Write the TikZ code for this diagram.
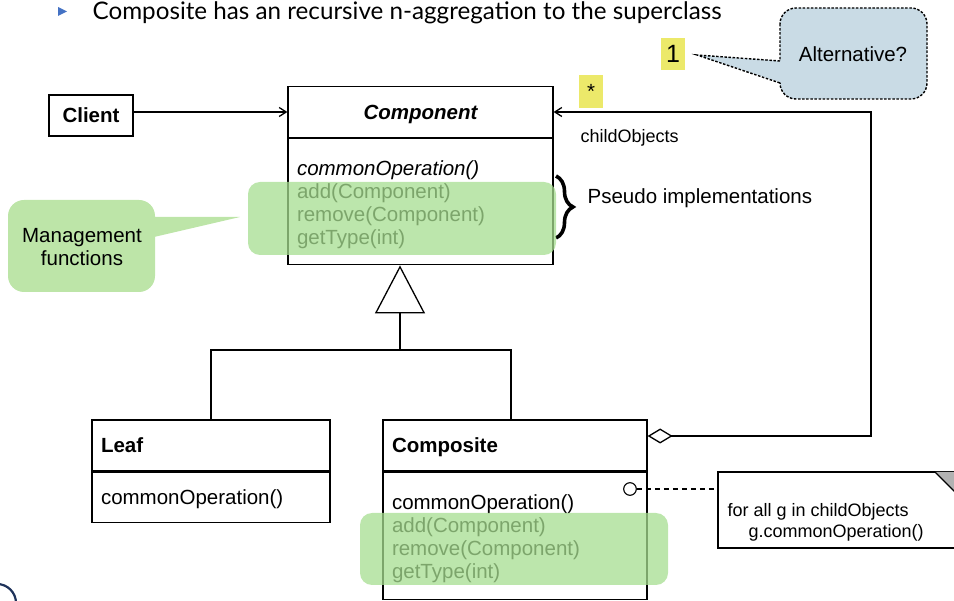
\documentclass[tikz,border=0pt]{standalone}
\usepackage{fontspec}
\setmainfont{Liberation Sans}
\newfontfamily\titlefont{Lato}
\usetikzlibrary{positioning, arrows.meta, decorations.pathreplacing}
\definecolor{hlgreen}{RGB}{166,221,144}
\definecolor{notegreen}{RGB}{189,229,168}
\definecolor{tipblue}{RGB}{201,219,229}
\definecolor{markyellow}{RGB}{236,233,106}
\definecolor{bulletblue}{RGB}{68,114,196}
\definecolor{foldgray}{RGB}{178,178,178}
\definecolor{logonavy}{RGB}{30,50,90}
\newcommand{\umlfont}{\fontsize{20.5}{23}\selectfont}
\newcommand{\smallfont}{\fontsize{18}{21}\selectfont}
\newcommand{\toppad}{\rule{0pt}{20pt}}

\begin{document}
\begin{tikzpicture}[
	x=1pt, y=-1pt,
	font=\umlfont,
	line width=1.3pt,
	umlhead/.style={draw, minimum height=51, inner xsep=9pt, align=left, text depth=0pt, font=\umlfont\bfseries},
	umlbody/.style={draw, inner xsep=9pt, align=left, font=\umlfont},
	lbl/.style={anchor=west, inner sep=0pt, text depth=0pt},
	openarrow/.style={-{Straight Barb[length=7pt, width=9pt]}},
	dotline/.style={line width=1.4pt, dash pattern=on 2.5pt off 1.6pt},
	marker/.style={fill=markyellow, minimum width=24, inner sep=0pt}
	]
	\useasboundingbox (0,0) rectangle (954,601);

	\fill[bulletblue] (58,7) -- (67,11.5) -- (58,16) -- cycle;
	\node[anchor=base west, inner sep=0pt, font=\titlefont\fontsize{24.2}{28}\selectfont] (title) at (92,20)
	{Composite has an recursive n-aggregation to the superclass};

	\node[draw, minimum width=84, minimum height=41, text depth=0pt, font=\umlfont\bfseries] (client) at (91,115.5) {Client};

	\node[umlhead, text width=247, align=center, font=\umlfont\bfseries\itshape] (compHead) at (420.5,112) {Component};
	\node[umlbody, text width=247, minimum height=126, below=0pt of compHead] (compBody)
	{\toppad\textit{commonOperation()}\\add(Component)\\remove(Component)\\getType(int)};

	\node[umlhead, text width=220] (leafHead) at (211,445.5) {Leaf};
	\node[umlbody, text width=220, minimum height=50, text depth=0pt, below=0pt of leafHead] (leafBody) {commonOperation()};

	\node[umlhead, text width=246] (compoHead) at (515,445.5) {Composite};
	\node[umlbody, text width=246, minimum height=127, below=0pt of compoHead] (compoBody)
	{\toppad commonOperation()\\add(Component)\\remove(Component)\\getType(int)};

	\draw[openarrow] (client.east |- compHead) -- (compHead.west);

	\coordinate (inhJoin) at (400,350);
	\coordinate (compoJoin) at (511,350);
	\draw[-{Triangle[open, length=48pt, width=50pt]}] (inhJoin) -- (inhJoin |- compBody.south);
	\draw (leafHead.north) |- (compoJoin) -- (compoJoin |- compoHead.north);

	\coordinate (aggCorner) at (871,436);
	\draw[{Diamond[open, length=25pt, width=15pt]}-{Straight Barb[length=7pt, width=9pt]}]
	(compoHead.east |- aggCorner) -- (aggCorner) |- (compHead.east);
	\node[marker, minimum height=33] (multStar) at (591,91.5) {*};
	\node[lbl, font=\smallfont] (roleLbl) at (580,136) {childObjects};

	\draw[decorate, decoration={brace, amplitude=17pt}, line width=3.6pt] (556,176) -- (556,238);
	\node[lbl] (pseudoLbl) at (587,196) {Pseudo implementations};

	\fill[hlgreen, opacity=.75, rounded corners=12] (248,182) rectangle (556,255);
	\fill[hlgreen, opacity=.75, rounded corners=12] (360,513) rectangle (668,585);

	\fill[notegreen, rounded corners=16] (8,200) rectangle (155,292);
	\fill[notegreen] (154,217) -- (240,217) -- (154,237) -- cycle;
	\node[align=center] (mgmtLbl) at (82,247) {Management\\functions};

	\node[marker, minimum height=32, font=\fontsize{25}{28}\selectfont] (multOne) at (673,54) {1};
	\filldraw[fill=tipblue, dotline, rounded corners=16] (780,8) rectangle (927,99);
	\fill[tipblue] (697,55) -- (782,61) -- (782,83) -- cycle;
	\draw[dotline] (780,61) -- (697,55) -- (780,83);
	\node (altLbl) at (853,54) {Alternative?};

	\filldraw[fill=white] (956,472) -- (718,472) -- (718,548) -- (956,548);
	\fill[foldgray] (935,472) -- (956,493) -- (956,472) -- cycle;
	\draw (935,472) -- (956,493);
	\node[lbl, font=\smallfont] (noteLine1) at (727,510) {for all g in childObjects};
	\node[lbl, font=\smallfont] (noteLine2) at (748,531) {g.commonOperation()};

	\node[draw, circle, minimum size=12.6, inner sep=0pt, fill=white, line width=1.1pt] (opCircle) at (630,489) {};
	\coordinate (noteEdge) at (718,489);
	\draw[line width=1.1pt, dash pattern=on 5pt off 4pt] (opCircle) -- (noteEdge);

	\draw[logonavy, line width=2.2pt] (-3,603) circle (19);
\end{tikzpicture}
\end{document}
